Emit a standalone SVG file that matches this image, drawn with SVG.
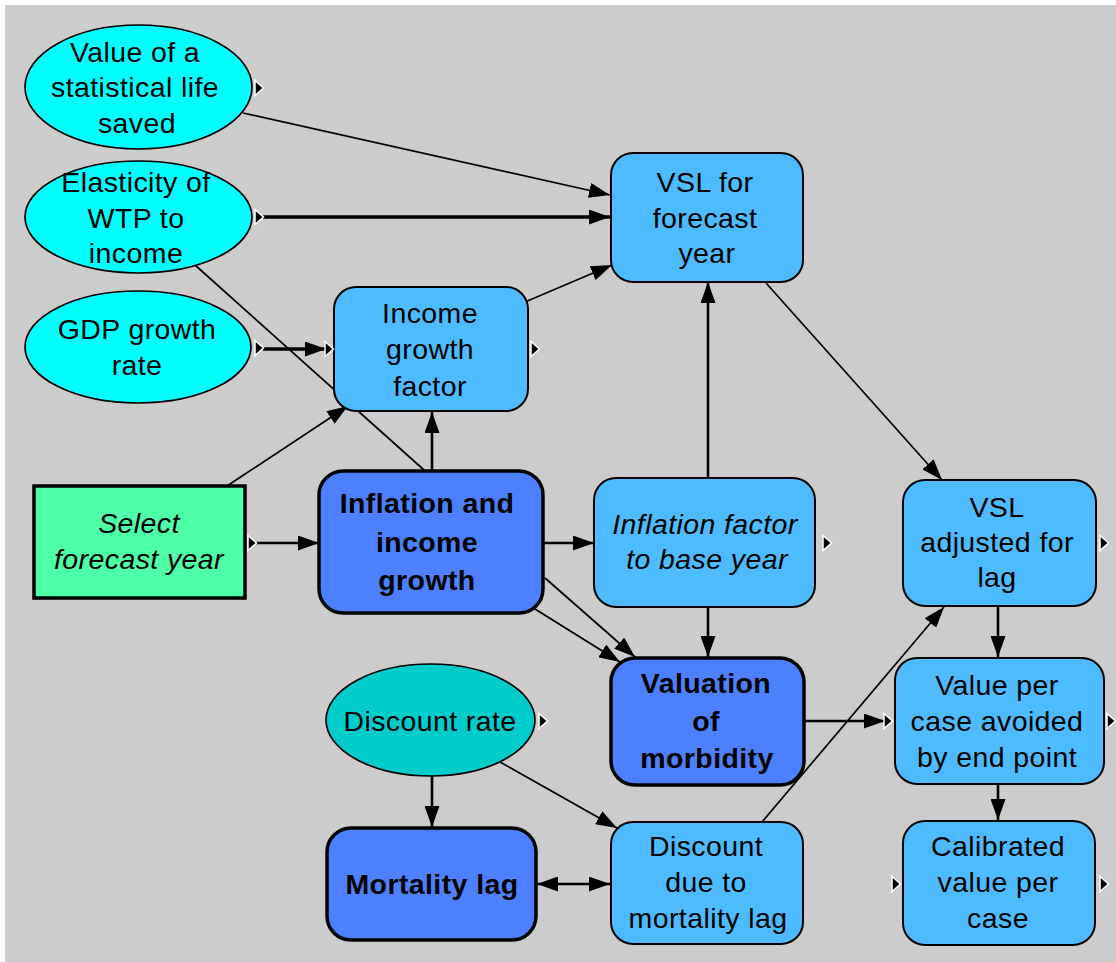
<svg xmlns="http://www.w3.org/2000/svg" width="1116" height="962" viewBox="0 0 1116 962">
<style>
text{font-family:"Liberation Sans",Arial,sans-serif;font-size:28.5px;letter-spacing:0.4px;text-anchor:middle;fill:#000}
.b{font-weight:bold}
.i{font-style:italic}
.var{fill:#4dbbff;stroke:#000;stroke-width:2}
.mod{fill:#4d80ff;stroke:#000;stroke-width:3.5}
.ell{fill:#00ffff;stroke:#000;stroke-width:1.7}
.thin{stroke:#000;stroke-width:1.7;fill:none}
.mid{stroke:#000;stroke-width:2.6;fill:none}
.thick{stroke:#000;stroke-width:3.3;fill:none}
.ind{fill:#000;stroke:#fff;stroke-width:1.5}
</style>
<defs>
<marker id="ah" viewBox="0 0 21 15" refX="21" refY="7.5" markerWidth="21" markerHeight="15" markerUnits="userSpaceOnUse" orient="auto-start-reverse">
<path d="M0,0 L21,7.5 L0,15 Z" fill="#000"/>
</marker>
<polygon id="tri" points="0,-7.5 8.5,0 0,7.5" class="ind"/>
</defs>
<rect x="0" y="0" width="1116" height="962" fill="#fff"/>
<rect x="5" y="5" width="1111" height="957" fill="#cccccc"/>

<g id="connectors">
<path class="thin" d="M243,113 L610,195" marker-end="url(#ah)"/>
<path class="thick" d="M263,217 L610,217" marker-end="url(#ah)"/>
<path class="thin" d="M525,302 L612,265" marker-end="url(#ah)"/>
<path class="thin" d="M195,265 L424,470"/>
<path class="thick" d="M263,349 L326,349" marker-end="url(#ah)"/>
<path class="thin" d="M227,486 L348,406" marker-end="url(#ah)"/>
<path class="mid" d="M432,470 L432,412" marker-end="url(#ah)"/>
<path class="mid" d="M256,543 L319,543" marker-end="url(#ah)"/>
<path class="mid" d="M543,543 L594,543" marker-end="url(#ah)"/>
<path class="mid" d="M708,478 L708,282" marker-end="url(#ah)"/>
<path class="thin" d="M545,578 L635,657" marker-end="url(#ah)"/>
<path class="thin" d="M535,609 L620,662" marker-end="url(#ah)"/>
<path class="mid" d="M708,607 L708,657" marker-end="url(#ah)"/>
<path class="thin" d="M766,283 L942,480" marker-end="url(#ah)"/>
<path class="mid" d="M998,606 L998,657" marker-end="url(#ah)"/>
<path class="mid" d="M805,721 L885,721" marker-end="url(#ah)"/>
<path class="thin" d="M762,822 L944,607" marker-end="url(#ah)"/>
<path class="mid" d="M998,785 L998,820" marker-end="url(#ah)"/>
<path class="mid" d="M432,776 L432,827" marker-end="url(#ah)"/>
<path class="thin" d="M500,762 L617,828" marker-end="url(#ah)"/>
<path class="mid" d="M537,884 L610,884" marker-start="url(#ah)" marker-end="url(#ah)"/>
</g>

<g id="n_vsl_life">
<ellipse class="ell" cx="138.5" cy="87" rx="113.5" ry="62"/>
<text x="135" y="62">Value of a</text>
<text x="135" y="97">statistical life</text>
<text x="137" y="133">saved</text>
<use href="#tri" x="255" y="88"/>
</g>

<g id="n_elasticity">
<ellipse class="ell" cx="138.5" cy="217" rx="113.5" ry="56"/>
<text x="136" y="192">Elasticity of</text>
<text x="136" y="228">WTP to</text>
<text x="136" y="263">income</text>
<use href="#tri" x="255" y="217"/>
</g>

<g id="n_gdp">
<ellipse class="ell" cx="138" cy="347" rx="113" ry="56"/>
<text x="137" y="339">GDP growth</text>
<text x="137" y="375">rate</text>
<use href="#tri" x="255" y="348"/>
</g>

<g id="n_select">
<rect x="34" y="486" width="211" height="112" fill="#4dffa6" stroke="#000" stroke-width="3.5"/>
<text class="i" x="139" y="533">Select</text>
<text class="i" x="139" y="569">forecast year</text>
<use href="#tri" x="248" y="543"/>
</g>

<g id="n_income_growth">
<rect class="var" x="334" y="287" width="194" height="124" rx="22"/>
<text x="430" y="323">Income</text>
<text x="430" y="359">growth</text>
<text x="430" y="396">factor</text>
<use href="#tri" x="325" y="349"/>
<use href="#tri" x="531" y="349"/>
</g>

<g id="n_vsl_forecast">
<rect class="var" x="611" y="153" width="192" height="129" rx="22"/>
<text x="705" y="192">VSL for</text>
<text x="705" y="228">forecast</text>
<text x="707" y="263">year</text>
</g>

<g id="n_inflation_income">
<rect class="mod" x="319" y="471" width="224" height="142" rx="24"/>
<text class="b" x="427" y="513">Inflation and</text>
<text class="b" x="427" y="552">income</text>
<text class="b" x="427" y="590">growth</text>
</g>

<g id="n_inflation_factor">
<rect class="var" x="594" y="478" width="221" height="129" rx="22"/>
<text class="i" x="705" y="534">Inflation factor</text>
<text class="i" x="707" y="569">to base year</text>
<use href="#tri" x="823" y="543"/>
</g>

<g id="n_vsl_adjusted">
<rect class="var" x="903" y="480" width="193" height="126" rx="22"/>
<text x="997" y="517">VSL</text>
<text x="997" y="552">adjusted for</text>
<text x="997" y="587">lag</text>
<use href="#tri" x="1100" y="543"/>
</g>

<g id="n_valuation">
<rect class="mod" x="611" y="658" width="193" height="127" rx="24"/>
<text class="b" x="706" y="693">Valuation</text>
<text class="b" x="706" y="731">of</text>
<text class="b" x="707" y="768">morbidity</text>
</g>

<g id="n_value_per_case">
<rect class="var" x="895" y="658" width="209" height="126" rx="22"/>
<text x="997" y="695">Value per</text>
<text x="997" y="731">case avoided</text>
<text x="997" y="767">by end point</text>
<use href="#tri" x="884" y="721"/>
<use href="#tri" x="1107" y="721"/>
</g>

<g id="n_discount_rate">
<ellipse cx="430.5" cy="720" rx="104.5" ry="56" fill="#00cccc" stroke="#000" stroke-width="1.7"/>
<text x="430" y="731">Discount rate</text>
<use href="#tri" x="539" y="721"/>
</g>

<g id="n_mortality_lag">
<rect class="mod" x="327" y="828" width="209" height="112" rx="24"/>
<text class="b" x="432" y="894">Mortality lag</text>
</g>

<g id="n_discount_due">
<rect class="var" x="611" y="822" width="192" height="122" rx="22"/>
<text x="706" y="856">Discount</text>
<text x="706" y="892">due to</text>
<text x="708" y="928">mortality lag</text>
</g>

<g id="n_calibrated">
<rect class="var" x="903" y="821" width="192" height="124" rx="22"/>
<text x="998" y="856">Calibrated</text>
<text x="998" y="892">value per</text>
<text x="998" y="928">case</text>
<use href="#tri" x="892" y="884"/>
<use href="#tri" x="1100" y="884"/>
</g>
</svg>
